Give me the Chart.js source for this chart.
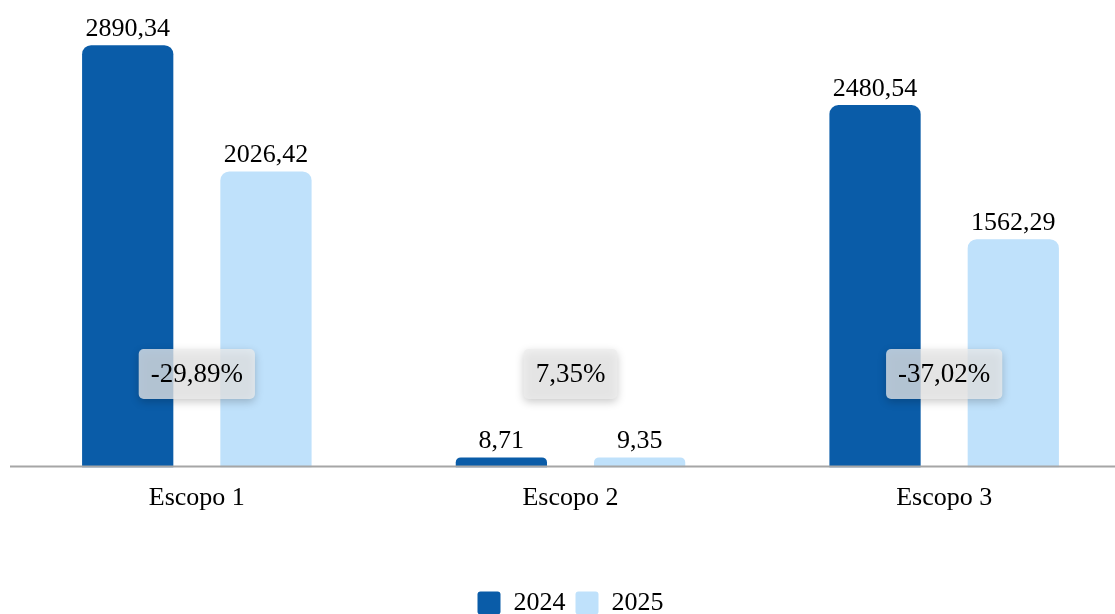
<!DOCTYPE html>
<html>
<head>
  <title>Emissões por escopo</title>
  <script src="https://cdn.jsdelivr.net/npm/chart.js"></script>
  <style>
    body {
      margin: 0;
      background: white;
      overflow: hidden;
    }
    #chartBox {
      position: relative;
      width: 1131px;
      height: 626px;
    }
  </style>
</head>
<body>
  <div id="chartBox">
    <canvas id="scopeChart"></canvas>
  </div>

  <script>
    const categories = ['Escopo 1', 'Escopo 2', 'Escopo 3'];
    const values2024 = [2890.34, 8.71, 2480.54];
    const values2025 = [2026.42, 9.35, 1562.29];
    const changeLabels = ['-29,89%', '7,35%', '-37,02%'];

    const darkBlue = '#0a5ca8';
    const lightBlue = '#bfe1fb';
    const serif = "'Liberation Serif', 'Times New Roman', serif";

    const fmt = v => v.toFixed(2).replace('.', ',');

    // value on top of every bar
    const barValues = {
      id: 'barValues',
      afterDatasetsDraw(chart) {
        const ctx = chart.ctx;
        ctx.save();
        ctx.font = '26px ' + serif;
        ctx.fillStyle = '#000';
        ctx.textAlign = 'center';
        ctx.textBaseline = 'bottom';
        chart.data.datasets.forEach((ds, i) => {
          chart.getDatasetMeta(i).data.forEach((bar, j) => {
            ctx.fillText(fmt(ds.data[j]), bar.x, bar.y - 3);
          });
        });
        ctx.restore();
      }
    };

    // percentage change boxes in the middle of each group
    const changeBoxes = {
      id: 'changeBoxes',
      afterDatasetsDraw(chart) {
        const ctx = chart.ctx;
        const x = chart.scales.x;
        const area = chart.chartArea;
        const cy = area.top + (area.bottom - area.top) * 0.8;
        ctx.save();
        ctx.font = '27px ' + serif;
        changeLabels.forEach((txt, i) => {
          const cx = x.getPixelForValue(i);
          const w = ctx.measureText(txt).width + 24;
          const h = 50;
          ctx.save();
          ctx.shadowColor = 'rgba(0,0,0,0.28)';
          ctx.shadowBlur = 9;
          ctx.shadowOffsetY = 3;
          ctx.fillStyle = 'rgba(236,236,236,0.75)';
          ctx.beginPath();
          ctx.roundRect(cx - w / 2, cy - h / 2, w, h, 5);
          ctx.fill();
          ctx.restore();
          ctx.fillStyle = '#000';
          ctx.textAlign = 'center';
          ctx.textBaseline = 'middle';
          ctx.fillText(txt, cx, cy + 1);
        });
        ctx.restore();
      }
    };

    // grey baseline drawn over the bar feet
    const baseLine = {
      id: 'baseLine',
      afterDatasetsDraw(chart) {
        const ctx = chart.ctx;
        const y = chart.scales.y.getPixelForValue(0);
        ctx.save();
        ctx.strokeStyle = '#a6a6a6';
        ctx.lineWidth = 2;
        ctx.beginPath();
        ctx.moveTo(10, y - 1);
        ctx.lineTo(chart.width, y - 1);
        ctx.stroke();
        ctx.restore();
      }
    };

    new Chart(document.getElementById('scopeChart'), {
      type: 'bar',
      data: {
        labels: categories,
        datasets: [
          {
            label: '2024',
            data: values2024,
            backgroundColor: darkBlue,
            borderRadius: { topLeft: 9, topRight: 9 },
            borderSkipped: 'bottom',
            minBarLength: 10,
            categoryPercentage: 0.74,
            barPercentage: 0.66
          },
          {
            label: '2025',
            data: values2025,
            backgroundColor: lightBlue,
            borderRadius: { topLeft: 9, topRight: 9 },
            borderSkipped: 'bottom',
            minBarLength: 10,
            categoryPercentage: 0.74,
            barPercentage: 0.66
          }
        ]
      },
      options: {
        responsive: true,
        maintainAspectRatio: false,
        animation: false,
        layout: { padding: { left: 10, right: 0, top: 0, bottom: 0 } },
        scales: {
          x: {
            grid: { display: false },
            border: { display: false },
            ticks: {
              color: '#000',
              font: { family: serif, size: 26 },
              padding: 7
            }
          },
          y: {
            display: false,
            min: 0,
            max: 3200
          }
        },
        plugins: {
          legend: {
            position: 'bottom',
            title: {
              display: true,
              text: ' ',
              padding: { top: 0, bottom: 45 }
            },
            labels: {
              color: '#000',
              font: { family: serif, size: 26 },
              boxWidth: 23,
              boxHeight: 23,
              useBorderRadius: true,
              borderRadius: 3,
              padding: 10
            }
          },
          tooltip: { enabled: false }
        }
      },
      plugins: [barValues, changeBoxes, baseLine]
    });
  </script>
</body>
</html>
